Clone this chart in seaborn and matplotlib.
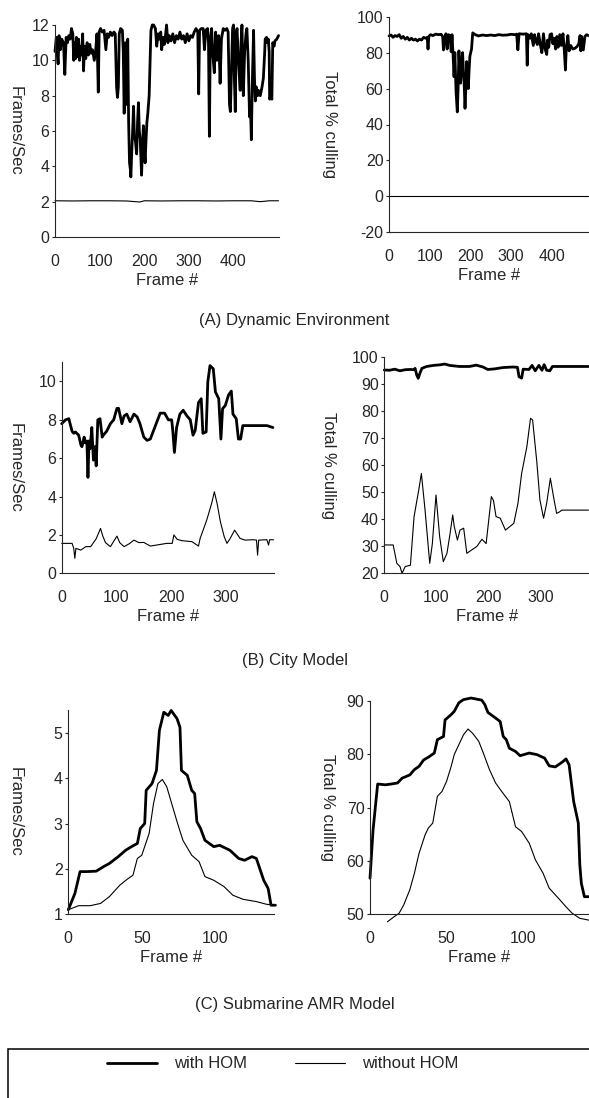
import numpy as np
import pandas as pd
import matplotlib
matplotlib.use("Agg")
import matplotlib.pyplot as plt
import seaborn as sns
from matplotlib.patches import Rectangle

# (frame, value) pairs

# (A) Dynamic Environment - frames/sec
a_fps_with = [
    (0, 10.5), (3, 11.3), (5, 10.4), (7, 9.8), (9, 11.4), (12, 10.6), (15, 11.2), (19, 11.0),
    (22, 9.2), (25, 11.3), (28, 11.0), (31, 11.4), (34, 11.2), (37, 11.8), (40, 11.5), (42, 10.0),
    (44, 11.0), (46, 10.1), (48, 11.3), (50, 10.2), (53, 11.2), (55, 10.0), (57, 10.8), (60, 10.3),
    (62, 11.5), (64, 9.4), (66, 10.8), (69, 10.1), (72, 11.0), (75, 10.3), (78, 10.9), (81, 10.4),
    (84, 10.6), (88, 10.0), (91, 10.5), (94, 11.5), (97, 8.2), (99, 11.6), (102, 11.8), (106, 11.6),
    (110, 11.7), (114, 10.6), (117, 11.5), (120, 11.3), (124, 11.6), (128, 11.4), (132, 11.6),
    (135, 11.5), (138, 8.5), (140, 7.9), (142, 8.5), (144, 11.5), (147, 11.8), (151, 11.7),
    (153, 10.5), (155, 7.0), (158, 11.0), (160, 7.5), (163, 11.2), (165, 6.5), (167, 4.2),
    (169, 3.8), (170, 3.4), (172, 4.8), (174, 6.0), (176, 7.4), (178, 5.6), (180, 5.5), (183, 4.7),
    (185, 6.5), (187, 7.6), (189, 6.0), (191, 5.5), (194, 3.5), (196, 5.0), (198, 6.3), (200, 5.0),
    (202, 4.2), (204, 5.5), (206, 6.5), (208, 7.0), (211, 8.0), (215, 11.7), (218, 12.0),
    (221, 12.0), (225, 11.8), (228, 10.8), (231, 11.5), (234, 11.2), (237, 11.6), (239, 10.6),
    (242, 11.3), (245, 10.9), (248, 11.5), (250, 12.0), (253, 11.0), (256, 11.4), (260, 11.1),
    (264, 11.5), (268, 11.0), (272, 11.4), (276, 11.2), (280, 11.6), (284, 11.2), (288, 11.4),
    (292, 11.0), (296, 11.5), (300, 11.1), (304, 11.4), (308, 11.3), (312, 11.6), (316, 11.8),
    (320, 11.6), (322, 8.1), (324, 11.7), (328, 11.8), (332, 11.8), (335, 10.6), (338, 11.7),
    (342, 11.8), (344, 11.0), (346, 5.7), (348, 11.0), (351, 11.8), (354, 10.2), (357, 9.3),
    (360, 11.6), (363, 10.0), (367, 11.4), (370, 8.7), (373, 11.2), (377, 11.8), (381, 11.7),
    (385, 11.8), (388, 11.6), (391, 7.5), (393, 7.1), (395, 9.0), (398, 11.8), (400, 12.0),
    (402, 9.0), (404, 7.1), (406, 11.5), (408, 11.8), (411, 10.0), (415, 8.3), (417, 11.0),
    (419, 12.0), (421, 9.5), (422, 8.0), (425, 10.5), (428, 11.5), (430, 11.8), (433, 10.0),
    (436, 6.8), (438, 7.5), (440, 5.5), (442, 8.5), (445, 11.7), (447, 9.0), (449, 7.7),
    (451, 8.5), (454, 8.0), (456, 8.3), (460, 8.0), (464, 8.5), (467, 9.0), (470, 10.5),
    (471, 11.2), (474, 11.3), (476, 11.0), (478, 11.2), (480, 10.5), (481, 7.8), (484, 8.0),
    (486, 7.8), (488, 11.0), (491, 10.8), (493, 11.1), (497, 11.2), (501, 11.4),
]
a_fps_without = [
    (0, 2.05), (40, 2.04), (80, 2.05), (120, 2.05), (160, 2.04), (190, 1.98), (200, 2.05),
    (240, 2.04), (280, 2.05), (320, 2.05), (360, 2.04), (400, 2.05), (440, 2.05), (460, 2.0),
    (480, 2.05), (501, 2.05),
]

# (A) Dynamic Environment - total % culling
a_cull_with = [
    (0, 89.3), (5, 89.8), (10, 88.5), (15, 89.5), (20, 89.0), (25, 90.0), (30, 88.0), (35, 89.0),
    (40, 87.5), (45, 88.5), (50, 87.0), (55, 88.0), (60, 87.0), (65, 87.5), (70, 86.5), (75, 87.5),
    (80, 87.0), (85, 88.5), (90, 88.0), (94, 88.5), (96, 82.0), (98, 89.0), (102, 90.0),
    (108, 89.5), (115, 90.3), (122, 90.0), (128, 90.2), (132, 89.0), (134, 81.5), (137, 88.0),
    (140, 90.5), (143, 82.0), (146, 90.0), (150, 89.5), (153, 80.5), (155, 90.0), (158, 77.0),
    (160, 66.6), (162, 80.0), (165, 58.0), (168, 47.0), (170, 60.0), (172, 81.0), (174, 70.0),
    (176, 63.0), (179, 75.0), (181, 80.0), (183, 70.0), (185, 62.0), (187, 49.0), (189, 60.0),
    (191, 75.0), (193, 68.0), (195, 60.0), (197, 70.0), (199, 78.0), (203, 82.0), (206, 91.0),
    (212, 90.0), (220, 89.3), (230, 89.8), (240, 89.5), (250, 89.8), (260, 89.5), (270, 90.0),
    (280, 89.7), (290, 89.8), (300, 90.2), (310, 90.0), (314, 90.3), (317, 81.6), (320, 90.5),
    (330, 90.3), (338, 90.5), (340, 73.0), (342, 90.0), (347, 88.0), (350, 90.5), (355, 84.0),
    (358, 90.0), (362, 86.0), (365, 84.5), (368, 90.5), (372, 85.0), (376, 80.0), (380, 90.5),
    (384, 82.0), (388, 79.0), (390, 87.0), (393, 83.0), (396, 90.0), (400, 90.5), (403, 85.0),
    (406, 88.0), (410, 82.0), (413, 89.0), (416, 83.0), (420, 90.0), (424, 84.0), (428, 90.5),
    (431, 82.0), (434, 70.3), (436, 82.0), (440, 89.5), (443, 81.0), (447, 84.0), (452, 82.0),
    (458, 82.5), (463, 83.5), (467, 85.0), (470, 89.5), (472, 81.0), (474, 89.0), (478, 81.5),
    (482, 89.0), (486, 90.0), (490, 89.5),
]
a_cull_without = [(0, 0.0), (490, 0.0)]

# (B) City Model - frames/sec
b_fps_with = [
    (0, 7.8), (7, 8.0), (13, 8.06), (19, 7.4), (22, 7.3), (25, 7.37), (31, 7.2), (35, 6.7),
    (37, 6.6), (41, 7.1), (43, 6.8), (46, 6.9), (48, 5.0), (50, 6.9), (52, 6.5), (55, 7.6),
    (58, 5.9), (61, 6.6), (63, 5.6), (66, 8.0), (70, 8.06), (74, 7.1), (76, 7.2), (82, 7.4),
    (89, 7.8), (95, 8.0), (101, 8.6), (104, 8.6), (110, 7.8), (114, 8.2), (119, 8.3), (125, 7.9),
    (132, 8.3), (138, 8.15), (143, 7.8), (150, 7.1), (156, 6.93), (162, 7.0), (168, 7.45),
    (174, 7.9), (180, 8.35), (188, 8.35), (195, 8.0), (201, 8.0), (203, 7.45), (206, 6.3),
    (210, 7.6), (216, 8.3), (222, 8.5), (229, 8.2), (235, 8.0), (240, 7.2), (244, 7.45),
    (250, 8.9), (255, 9.1), (258, 7.3), (264, 7.37), (267, 9.97), (271, 10.83), (277, 10.66),
    (281, 9.45), (287, 9.1), (291, 7.0), (294, 8.58), (299, 8.75), (305, 9.3), (310, 9.5),
    (313, 8.3), (319, 8.06), (323, 7.0), (327, 7.0), (331, 7.7), (350, 7.7), (375, 7.7),
    (386, 7.6),
]
b_fps_without = [
    (0, 1.56), (19, 1.56), (22, 1.3), (24, 0.78), (26, 1.3), (35, 1.21), (44, 1.39), (53, 1.39),
    (63, 1.8), (71, 2.34), (75, 1.95), (80, 1.6), (89, 1.39), (101, 1.94), (106, 1.6),
    (114, 1.39), (124, 1.55), (132, 1.73), (141, 1.6), (150, 1.61), (162, 1.42), (192, 1.56),
    (202, 1.56), (205, 2.0), (211, 1.77), (220, 1.7), (238, 1.65), (250, 1.42), (253, 1.82),
    (265, 2.77), (274, 3.64), (279, 4.25), (284, 3.64), (290, 2.69), (297, 1.91), (302, 1.56),
    (308, 1.82), (316, 2.25), (326, 1.82), (335, 1.73), (350, 1.75), (356, 1.73), (358, 0.95),
    (360, 1.73), (375, 1.75), (378, 1.47), (380, 1.75), (387, 1.75),
]

# (B) City Model - total % culling
b_cull_with = [
    (0, 95.3), (10, 95.2), (20, 95.6), (30, 95.0), (40, 95.4), (50, 95.5), (56, 95.4),
    (59, 95.9), (62, 93.5), (65, 92.2), (68, 94.0), (72, 95.9), (81, 96.6), (94, 97.0),
    (106, 97.2), (116, 97.5), (125, 97.0), (144, 96.6), (163, 96.6), (176, 97.1), (189, 96.4),
    (198, 95.5), (211, 95.7), (227, 96.2), (246, 96.4), (255, 96.3), (258, 92.8), (263, 92.3),
    (266, 95.6), (277, 95.5), (283, 97.0), (289, 95.0), (296, 97.0), (302, 95.2), (306, 97.3),
    (311, 95.2), (317, 95.0), (322, 96.6), (330, 96.6), (345, 96.6), (360, 96.6), (375, 96.6),
    (391, 96.6),
]
b_cull_without = [
    (0, 30.5), (17, 30.5), (24, 23.7), (30, 22.5), (34, 20.0), (40, 22.5), (50, 23.0), (57, 41.0),
    (66, 50.9), (71, 57.0), (78, 43.5), (87, 23.7), (92, 31.0), (99, 49.0), (106, 33.6),
    (113, 24.3), (120, 27.4), (126, 34.8), (131, 41.6), (134, 37.3), (140, 32.3), (145, 36.0),
    (152, 36.7), (158, 27.4), (167, 28.6), (177, 29.9), (187, 32.6), (195, 31.0), (205, 48.4),
    (209, 47.0), (214, 41.0), (222, 40.4), (232, 36.0), (248, 38.5), (256, 46.0), (263, 57.0),
    (273, 66.9), (280, 77.4), (284, 76.8), (292, 61.4), (298, 47.2), (305, 40.4), (311, 46.0),
    (318, 55.2), (324, 48.4), (330, 42.2), (336, 42.8), (340, 43.4), (391, 43.4),
]

# (C) Submarine AMR Model - frames/sec
c_fps_with = [
    (0, 1.1), (4.5, 1.46), (8, 1.94), (12.5, 1.94), (19, 1.95), (24, 2.05), (28, 2.12),
    (34, 2.27), (39, 2.41), (43, 2.49), (47, 2.56), (49, 2.89), (52, 3.0), (53, 3.73),
    (57, 3.88), (60, 4.17), (62, 5.05), (65, 5.45), (68, 5.38), (70, 5.49), (74, 5.31),
    (76, 5.12), (77, 4.17), (81, 4.06), (84, 3.73), (86, 3.66), (87.5, 3.04), (90, 2.89),
    (93, 2.63), (99, 2.49), (103, 2.52), (110, 2.41), (116, 2.23), (120, 2.19), (125, 2.27),
    (128, 2.23), (133, 1.75), (136, 1.57), (138, 1.2), (141, 1.2),
]
c_fps_without = [
    (0, 1.1), (7, 1.19), (15, 1.19), (22, 1.24), (28, 1.39), (35, 1.64), (40, 1.77), (44, 1.86),
    (47, 2.23), (50, 2.3), (55, 2.78), (58, 3.44), (61, 3.88), (64, 3.97), (67, 3.81),
    (70, 3.48), (74, 3.04), (78, 2.63), (84, 2.3), (89, 2.16), (93, 1.83), (99, 1.75),
    (106, 1.61), (112, 1.42), (119, 1.33), (128, 1.28), (135, 1.22), (141, 1.2),
]

# (C) Submarine AMR Model - total % culling
c_cull_with = [
    (0, 56.75), (2, 65.8), (5, 74.4), (10, 74.25), (14, 74.4), (18, 74.6), (21, 75.5), (26, 76.1),
    (29, 77.1), (32, 77.7), (35, 78.9), (38, 79.4), (42, 80.2), (44, 82.7), (48, 83.3),
    (49, 86.4), (53, 87.4), (55, 88.0), (58, 89.6), (61, 90.2), (66, 90.5), (73, 90.1),
    (75, 89.25), (77, 87.8), (82, 86.75), (85, 86.1), (87, 83.3), (89, 82.7), (91, 81.1),
    (95, 80.5), (98, 79.7), (104, 80.2), (109, 79.9), (114, 79.25), (117, 77.8), (121, 77.6),
    (126, 78.6), (128, 79.1), (130, 78.0), (133, 71.1), (136, 67.1), (137, 59.25), (138, 55.8),
    (140, 53.3), (143, 53.3),
]
c_cull_without = [
    (11.4, 48.6), (16, 49.6), (19, 50.2), (22, 51.75), (26, 54.6), (29, 57.7), (32, 61.4),
    (36, 64.9), (38, 66.1), (41, 67.1), (44, 72.1), (47, 73.0), (50, 74.9), (53, 77.7),
    (55, 79.9), (58, 81.75), (61, 83.6), (64, 84.7), (67, 83.9), (71, 82.4), (74, 80.2),
    (78, 77.1), (82, 74.6), (86, 73.0), (91, 71.1), (95, 66.4), (99, 65.5), (104, 63.3),
    (108, 60.2), (113, 57.7), (117, 54.9), (124, 52.7), (128, 51.4), (132, 50.2), (137, 49.25),
    (143, 48.9),
]

captions = ["(A) Dynamic Environment", "(B) City Model", "(C) Submarine AMR Model"]
legend_labels = ["with HOM", "without HOM"]

sns.set_style("ticks")
plt.rcParams['font.family'] = ['Liberation Sans', 'DejaVu Sans']
plt.rcParams['axes.linewidth'] = 0.8
plt.rcParams['axes.unicode_minus'] = False

W, H = 589, 1098
fig = plt.figure(figsize=(W / 100, H / 100), dpi=100)


def px_axes(left, top, right, bottom):
    return fig.add_axes([left / W, 1 - bottom / H, (right - left) / W, (bottom - top) / H])


def draw(ax, with_pts, without_pts, xlim, ylim, xticks, yticks, ylabel, label_x):
    w = pd.DataFrame(with_pts, columns=["frame", "value"])
    wo = pd.DataFrame(without_pts, columns=["frame", "value"])
    sns.lineplot(data=w, x="frame", y="value", ax=ax, color="black", linewidth=2.0,
                 sort=False, estimator=None, label=legend_labels[0], legend=False, clip_on=False)
    sns.lineplot(data=wo, x="frame", y="value", ax=ax, color="black", linewidth=0.8,
                 sort=False, estimator=None, label=legend_labels[1], legend=False, clip_on=False)
    ax.set_xlim(*xlim)
    ax.set_ylim(*ylim)
    ax.set_xticks(xticks)
    ax.set_yticks(yticks)
    sns.despine(ax=ax)
    ax.tick_params(axis="y", length=2.5, width=0.8, pad=1.5, labelsize=11.5)
    ax.tick_params(axis="x", length=0, pad=12, labelsize=11.5)
    ax.set_xlabel("Frame #", fontsize=12, labelpad=3)
    ax.set_ylabel(ylabel, fontsize=12, rotation=270)
    ax.yaxis.label.set_va("center")
    ax.yaxis.label.set_ha("center")
    ax.yaxis.set_label_coords(label_x, 0.5)


ax1 = px_axes(55, 25, 279, 237)
draw(ax1, a_fps_with, a_fps_without, (0, 502), (0, 12), range(0, 401, 100), range(0, 13, 2),
     "Frames/Sec", -0.179)
ax2 = px_axes(389, 16.7, 589, 232.3)
draw(ax2, a_cull_with, a_cull_without, (0, 492), (-20, 100), range(0, 401, 100),
     range(-20, 101, 20), "Total % culling", -0.297)

ax3 = px_axes(61.7, 362.3, 274, 573.3)
draw(ax3, b_fps_with, b_fps_without, (0, 388), (0, 11), range(0, 301, 100), range(0, 11, 2),
     "Frames/Sec", -0.22)
ax4 = px_axes(384.3, 357.3, 589, 573.3)
draw(ax4, b_cull_with, b_cull_without, (0, 392), (20, 100), range(0, 301, 100),
     range(20, 101, 10), "Total % culling", -0.275)

ax5 = px_axes(68.3, 710, 274, 914.3)
draw(ax5, c_fps_with, c_fps_without, (0, 140), (1, 5.5), [0, 50, 100], [1, 2, 3, 4, 5],
     "Frames/Sec", -0.259)
ax6 = px_axes(370, 700.7, 589, 914.3)
draw(ax6, c_cull_with, c_cull_without, (0, 143), (50, 90), [0, 50, 100], range(50, 91, 10),
     "Total % culling", -0.196)

for cap, y in zip(captions, [321, 661, 1005]):
    fig.text(0.5, 1 - y / H, cap, ha="center", va="center", fontsize=12)

handles = ax5.get_lines()[:2]
fig.legend(handles, legend_labels, loc="center", bbox_to_anchor=(282.5 / W, 1 - 1064 / H),
           ncol=2, frameon=False, handlelength=3, handletextpad=1.0, columnspacing=2.9,
           fontsize=12)
fig.add_artist(Rectangle((8 / W, -0.1), 1.2, (1 - 1049 / H) + 0.1, transform=fig.transFigure,
                         fill=False, edgecolor="black", linewidth=1.1))

fig.savefig("out.png", dpi=100)
